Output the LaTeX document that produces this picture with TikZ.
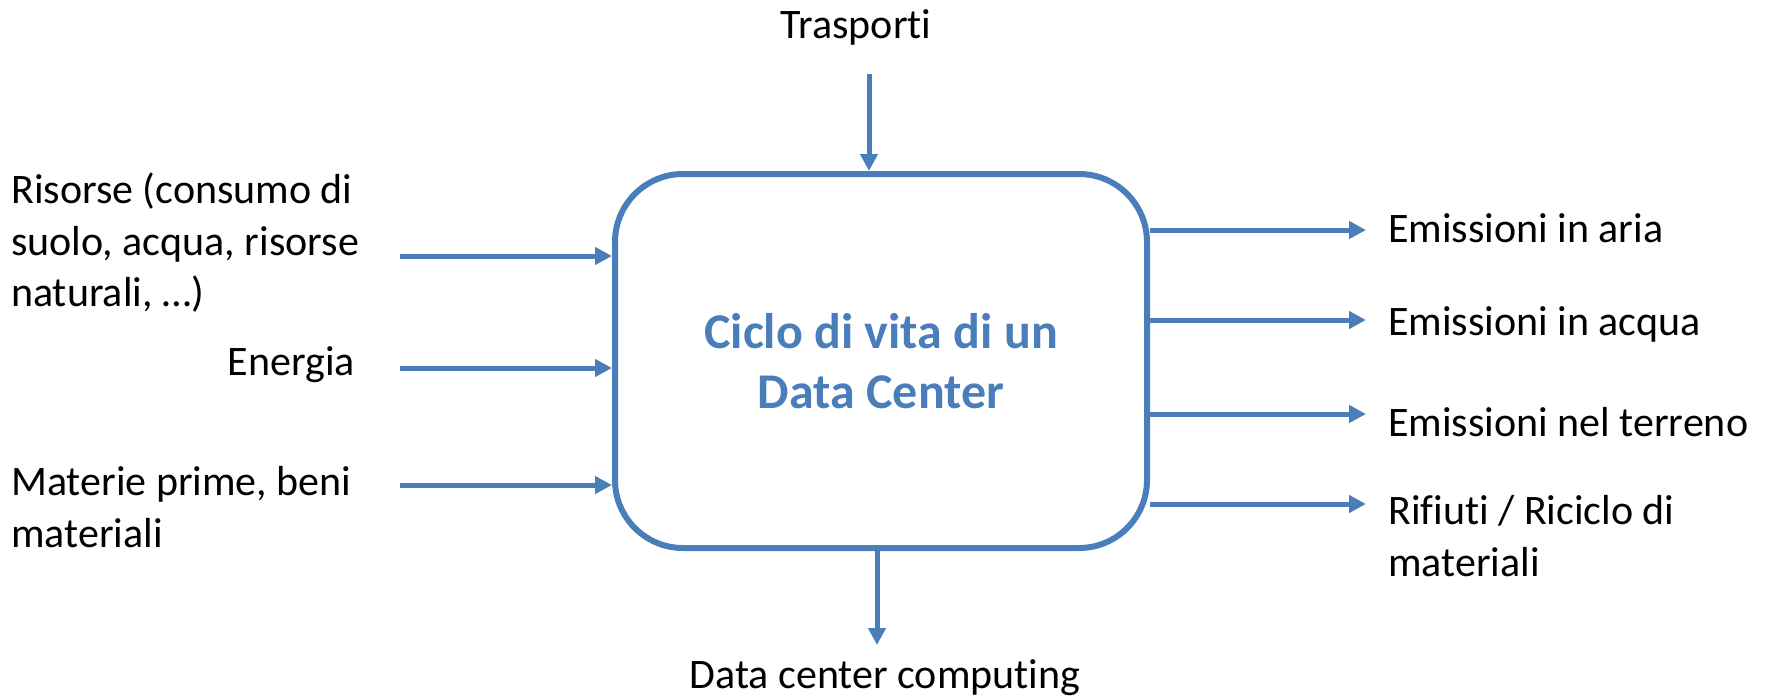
\documentclass[tikz,border=0pt]{standalone}
\usepackage{fontspec}
\setmainfont{Carlito}[Ligatures=NoCommon]
\usetikzlibrary{arrows.meta}
\definecolor{dcblue}{HTML}{4A7EBB}
\begin{document}
\begin{tikzpicture}[x=1pt,y=-1pt,
  lbl/.style={font=\fontsize{42}{51.5}\selectfont, inner sep=0pt, text=black},
  flow/.style={draw=dcblue, line width=5pt, -{Triangle[length=17pt,width=17pt]}},
  mainbox/.style={draw=dcblue, line width=6pt, rounded corners=68pt, minimum width=532pt, minimum height=374pt, align=center, font=\fontsize{50}{60}\selectfont\bfseries, text=dcblue}]
\useasboundingbox (0,0) rectangle (1767,697);
\node[mainbox] (dc) at (881,361) {Ciclo di vita di un\\Data Center};
% labels
\node[lbl] (trasp) at (856,27) {Trasporti};
\node[lbl, anchor=west, align=left] (res) at (11,243) {Risorse (consumo di\\suolo, acqua, risorse\\naturali, …)};
\node[lbl, anchor=east] (en) at (355,365) {Energia};
\node[lbl, anchor=west, align=left] (mat) at (11,507) {Materie prime, beni\\materiali};
\node[lbl, anchor=west] (aria) at (1388,228) {Emissioni in aria};
\node[lbl, anchor=west] (acq) at (1388,324) {Emissioni in acqua};
\node[lbl, anchor=west] (terr) at (1388,422) {Emissioni nel terreno};
\node[lbl, anchor=west, align=left] (rif) at (1388,536) {Rifiuti / Riciclo di\\materiali};
\node[lbl] (dcc) at (885,678) {Data center computing};
% arrow end points
\coordinate (tT) at (869,74);
\coordinate (bB) at (877,645);
\coordinate (iR) at (400,256);
\coordinate (iE) at (400,368);
\coordinate (iM) at (400,485);
\coordinate (oA) at (1366,230);
\coordinate (oW) at (1366,320);
\coordinate (oT) at (1366,414);
\coordinate (oR) at (1366,504);
% connectors
\draw[flow] (tT) -- (tT |- dc.north);
\draw[flow] (bB |- dc.south) -- (bB);
\draw[flow] (iR) -- (iR -| dc.west);
\draw[flow] (iE) -- (iE -| dc.west);
\draw[flow] (iM) -- (iM -| dc.west);
\draw[flow] (oA -| dc.east) -- (oA);
\draw[flow] (oW -| dc.east) -- (oW);
\draw[flow] (oT -| dc.east) -- (oT);
\draw[flow] (oR -| dc.east) -- (oR);
\end{tikzpicture}
\end{document}
